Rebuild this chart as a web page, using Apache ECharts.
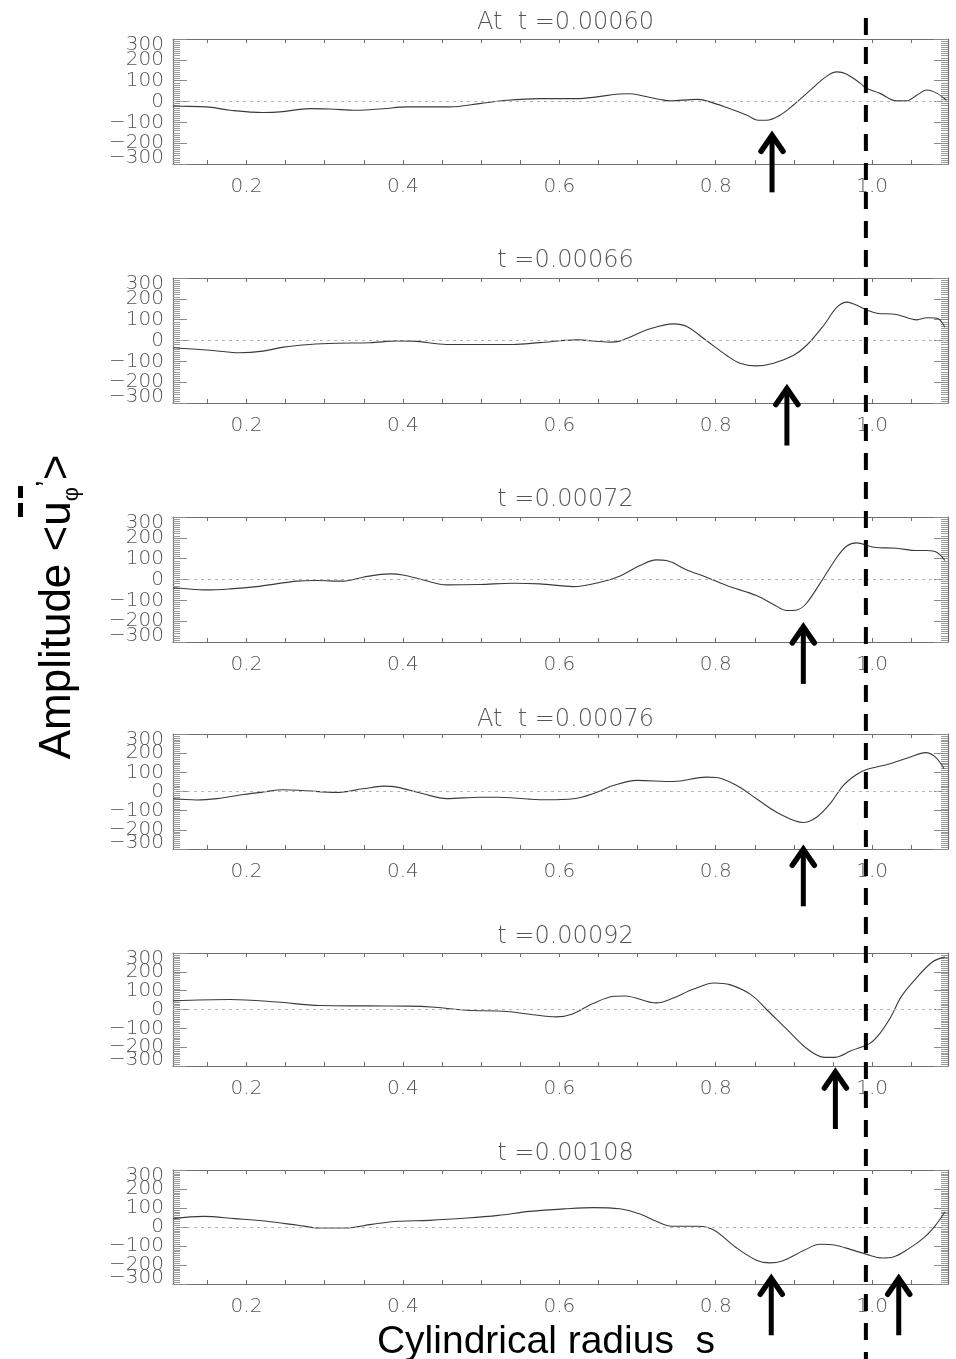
<!DOCTYPE html>
<html>
<head>
<meta charset="utf-8">
<script src="https://cdn.jsdelivr.net/npm/echarts@6/dist/echarts.min.js"></script>
<style>
html,body{margin:0;padding:0;background:#fff;}
#chart{width:956px;height:1359px;}
</style>
</head>
<body>
<div id="chart"></div>
<script>
// ---------- data ----------
const panelTitles = ["At  t =0.00060", "t =0.00066", "t =0.00072", "At  t =0.00076", "t =0.00092", "t =0.00108"];
const sMin = 0.106, sMax = 1.097;
const xLabelValues = [0.2, 0.4, 0.6, 0.8, 1.0];
const xTickValues = [0.15,0.2,0.25,0.3,0.35,0.4,0.45,0.5,0.55,0.6,0.65,0.7,0.75,0.8,0.85,0.9,0.95,1.0,1.05];
const yMin = -300, yMax = 300, yStep = 100;
// y tick labels, split into groups so that none is dropped as overlapping
const yLabelGroups = [[-200, 0, 200], [-100, 100], [-300, 300]];

const s1 = [0.106,0.115,0.149,0.179,0.221,0.243,0.281,0.306,0.341,0.374,0.405,0.460,0.498,0.533,0.575,0.622,0.648,0.673,0.690,0.703,0.729,0.741,0.776,0.788,0.814,0.840,0.854,0.865,0.882,0.899,0.921,0.942,0.955,0.967,0.985,0.993,1.010,1.031,1.044,1.057,1.070,1.083,1.095];
const v1 = [-22,-23,-26,-42,-53,-50,-34,-36,-42,-35,-26,-26,-10,6,14,14,22,35,37,30,10,3,10,3,-29,-66,-90,-90,-66,-18,55,122,142,132,87,63,39,3,3,30,55,39,6];

const s2 = [0.106,0.115,0.157,0.191,0.221,0.247,0.281,0.315,0.358,0.392,0.413,0.456,0.498,0.541,0.575,0.622,0.665,0.677,0.716,0.746,0.763,0.788,0.814,0.831,0.852,0.874,0.899,0.916,0.938,0.955,0.968,0.978,0.993,1.006,1.031,1.057,1.070,1.083,1.093];
const v2 = [-35,-37,-48,-59,-51,-32,-19,-13,-11,-2,-3,-19,-19,-19,-10,3,-8,-3,56,80,67,0,-72,-109,-122,-109,-72,-24,72,160,184,173,147,131,125,99,109,107,64];

const s3 = [0.106,0.115,0.149,0.179,0.213,0.238,0.264,0.289,0.324,0.349,0.383,0.400,0.426,0.456,0.498,0.541,0.575,0.618,0.652,0.677,0.703,0.724,0.737,0.763,0.788,0.814,0.852,0.874,0.891,0.904,0.916,0.933,0.955,0.968,0.980,1.002,1.031,1.057,1.070,1.083,1.093];
const v3 = [-40,-42,-50,-45,-34,-21,-8,-5,-8,11,27,22,-2,-26,-24,-18,-21,-34,-13,16,67,94,91,46,11,-29,-77,-120,-149,-146,-114,-21,107,162,176,155,150,139,139,130,91];

const s4 = [0.106,0.115,0.136,0.162,0.196,0.221,0.247,0.272,0.315,0.349,0.375,0.392,0.426,0.456,0.498,0.520,0.562,0.584,0.618,0.648,0.669,0.699,0.746,0.788,0.801,0.827,0.852,0.882,0.912,0.929,0.946,0.963,0.980,0.993,1.023,1.049,1.068,1.080,1.092];
const v4 = [-38,-40,-44,-37,-16,-3,9,5,-5,14,28,23,-12,-37,-30,-30,-40,-43,-38,-4,31,58,52,75,73,31,-38,-117,-162,-134,-65,31,89,115,145,180,203,183,119];

const s5 = [0.106,0.179,0.239,0.293,0.354,0.407,0.441,0.482,0.529,0.562,0.596,0.616,0.643,0.670,0.684,0.724,0.744,0.771,0.798,0.818,0.845,0.865,0.892,0.919,0.939,0.953,0.973,0.997,1.010,1.024,1.037,1.054,1.077,1.093];
const v5 = [46,53,40,21,19,18,12,-4,-9,-25,-39,-25,32,70,72,35,58,107,141,132,79,0,-110,-215,-254,-254,-219,-180,-127,-39,67,155,252,278];

const s6 = [0.106,0.145,0.185,0.226,0.266,0.293,0.327,0.360,0.394,0.434,0.482,0.522,0.562,0.609,0.643,0.677,0.704,0.724,0.744,0.778,0.798,0.825,0.852,0.869,0.885,0.913,0.933,0.953,0.973,0.993,1.013,1.027,1.047,1.067,1.081,1.093];
const v6 = [44,56,44,30,9,-5,-5,14,30,35,47,61,82,96,102,96,67,30,4,4,-17,-105,-175,-189,-179,-123,-91,-96,-119,-144,-163,-158,-114,-53,9,79];

// annotation arrows (panel index, s of arrow, value at arrow tip)
const arrowPanel = [0, 1, 2, 3, 4, 5, 5];
const arrowS     = [0.872, 0.891, 0.912, 0.912, 0.953, 0.871, 1.034];
const arrowTipV  = [-148, -216, -213, -286, -316, -254, -254];
const dashedLineS = 0.992;

const yTitle = "Amplitude <u{sub|φ}{sup|’}>";
const xTitle = "Cylindrical radius  s";

// ---------- layout ----------
const panelS = [s1, s2, s3, s4, s5, s6];
const panelV = [v1, v2, v3, v4, v5, v6];
const gridTop = [39, 278, 517, 734, 953, 1170];
const gridH = [125, 125, 125, 115, 113, 114];
const titleY = [20, 258, 497, 717, 934, 1151];
const gridLeft = 173, gridW = 775;
const Y_PER = 4; // y axes per panel

const labelFont = 'DejaVu Sans';
const frameColor = '#6f6f6f';
const tickColor = '#8a8a8a';

const chart = echarts.init(document.getElementById('chart'), null, {renderer: 'canvas'});

const grids = [], xAxes = [], yAxes = [], series = [], titles = [];
const minus = v => String(v).replace('-', '\u2212');
const yLabelStyle = {fontFamily: labelFont, fontWeight: 200, fontSize: 20, color: '#555', margin: 9,
  formatter: minus, lineHeight: 12, hideOverlap: false, showMinLabel: true, showMaxLabel: true};

for (let i = 0; i < 6; i++) {
  grids.push({left: gridLeft, top: gridTop[i], width: gridW, height: gridH[i], containLabel: false});
  titles.push({
    text: panelTitles[i], left: gridLeft + gridW / 2, top: titleY[i] - 14, textAlign: 'center',
    textStyle: {fontFamily: labelFont, fontWeight: 200, fontSize: 24, color: '#555'}
  });
  const xBase = {
    type: 'value', gridIndex: i, min: sMin, max: sMax,
    axisLine: {show: true, onZero: false, lineStyle: {color: frameColor, width: 1.2}},
    axisTick: {show: true, inside: true, length: 4, customValues: xTickValues, lineStyle: {color: frameColor}},
    splitLine: {show: false}
  };
  xAxes.push(Object.assign({}, xBase, {
    position: 'bottom',
    axisLabel: {show: true, customValues: xLabelValues, margin: 13,
      formatter: v => Number(v).toFixed(1),
      fontFamily: labelFont, fontWeight: 200, fontSize: 20, color: '#555'}
  }));
  xAxes.push(Object.assign({}, xBase, {position: 'top', axisLabel: {show: false}}));
  const yBase = {
    type: 'value', gridIndex: i, min: yMin, max: yMax, interval: yStep,
    axisLine: {show: true, onZero: false, lineStyle: {color: frameColor, width: 1.2}},
    axisTick: {show: true, inside: true, length: 14, lineStyle: {color: tickColor}},
    minorTick: {show: true, splitNumber: 10, length: 7, lineStyle: {color: '#9a9a9a'}},
    splitLine: {show: false}
  };
  // left axis (line, ticks, first label group)
  yAxes.push(Object.assign({}, yBase, {
    position: 'left',
    axisLabel: Object.assign({show: true, customValues: yLabelGroups[0]}, yLabelStyle)
  }));
  // right mirror axis
  yAxes.push(Object.assign({}, yBase, {position: 'right', axisLabel: {show: false}}));
  // label-only axes for the other label groups
  yAxes.push({
    type: 'value', gridIndex: i, min: yMin, max: yMax, interval: yStep, position: 'left',
    axisLine: {show: false}, axisTick: {show: false}, splitLine: {show: false},
    axisLabel: Object.assign({show: true, customValues: yLabelGroups[1]}, yLabelStyle)
  });
  yAxes.push({
    type: 'value', gridIndex: i, min: yMin, max: yMax, interval: yStep, position: 'left',
    axisLine: {show: false}, axisTick: {show: false}, splitLine: {show: false},
    axisLabel: Object.assign({show: true, customValues: yLabelGroups[2],
      verticalAlignMaxLabel: 'top', verticalAlignMinLabel: 'bottom'}, yLabelStyle)
  });
  series.push({
    type: 'line', xAxisIndex: 2 * i, yAxisIndex: Y_PER * i,
    data: panelS[i].map((s, k) => [s, panelV[i][k]]),
    showSymbol: false, smooth: 0.35, clip: true,
    lineStyle: {color: '#3a3a3a', width: 1.1},
    markLine: {
      silent: true, symbol: 'none', label: {show: false}, animation: false,
      lineStyle: {color: '#b5b5b5', type: [3, 4], width: 1},
      data: [{yAxis: 0}]
    }
  });
}

chart.setOption({
  animation: false,
  backgroundColor: '#fff',
  title: titles,
  grid: grids,
  xAxis: xAxes,
  yAxis: yAxes,
  series: series
});

// ---------- annotations ----------
const graphics = [];
const dashX = chart.convertToPixel({xAxisIndex: 0, yAxisIndex: 0}, [dashedLineS, 0])[0];
graphics.push({
  type: 'line', z: 100, silent: true,
  shape: {x1: dashX, y1: 18, x2: dashX, y2: 1359},
  style: {stroke: '#000', lineWidth: 4, lineDash: [17, 12]}
});
for (let k = 0; k < arrowS.length; k++) {
  const p = arrowPanel[k];
  const pt = chart.convertToPixel({xAxisIndex: 2 * p, yAxisIndex: Y_PER * p}, [arrowS[k], arrowTipV[k]]);
  const x = pt[0], y = pt[1];
  graphics.push({
    type: 'line', z: 100, silent: true,
    shape: {x1: x, y1: y + 4, x2: x, y2: y + 60},
    style: {stroke: '#000', lineWidth: 5}
  });
  graphics.push({
    type: 'polyline', z: 100, silent: true,
    shape: {points: [[x - 11, y + 19], [x, y + 3], [x + 11, y + 19]]},
    style: {stroke: '#000', lineWidth: 5.5, fill: null, lineJoin: 'miter', lineCap: 'round'}
  });
}
// y axis title (rotated)
graphics.push({
  type: 'text', z: 100, silent: true,
  x: 58, y: 607, rotation: Math.PI / 2,
  style: {
    text: yTitle, fontFamily: 'Liberation Sans', fontSize: 44, fill: '#000',
    align: 'center', verticalAlign: 'middle',
    rich: {
      sub: {fontFamily: 'Liberation Sans', fontSize: 22, fill: '#000', verticalAlign: 'bottom', lineHeight: 50},
      sup: {fontFamily: 'Liberation Sans', fontSize: 30, fill: '#000', verticalAlign: 'top', lineHeight: 50}
    }
  }
});
// overbar over u
graphics.push({type: 'rect', z: 100, silent: true, shape: {x: 18, y: 486, width: 5, height: 12}, style: {fill: '#000'}});
graphics.push({type: 'rect', z: 100, silent: true, shape: {x: 18, y: 503, width: 5, height: 14}, style: {fill: '#000'}});
// x axis title
graphics.push({
  type: 'text', z: 100, silent: true,
  x: 546, y: 1342,
  style: {text: xTitle, fontFamily: 'Liberation Sans', fontSize: 39, fill: '#000', align: 'center', verticalAlign: 'middle'}
});
chart.setOption({graphic: graphics});
</script>
</body>
</html>
